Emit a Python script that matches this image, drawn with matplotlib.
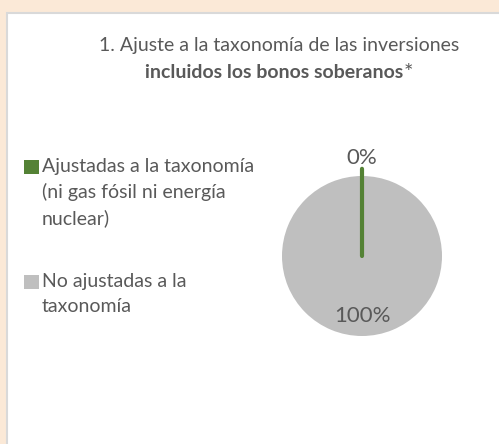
import matplotlib.pyplot as plt
from matplotlib.patches import Rectangle

# datos
categorias = ["Ajustadas a la taxonomía\n(ni gas fósil ni energía\nnuclear)",
              "No ajustadas a la\ntaxonomía"]
valores = [0, 100]
colores = ["#548235", "#BFBFBF"]
titulo_1 = "1. Ajuste a la taxonomía de las inversiones"
titulo_2 = "incluidos los bonos soberanos"

plt.rcParams['font.family'] = ['Lato', 'DejaVu Sans']
gris_texto = "#595959"
W, H = 499, 444

fig = plt.figure(figsize=(W / 100, H / 100), dpi=100)
fig.patch.set_facecolor("#FBE9D7")

# panel blanco
fig.add_artist(Rectangle((7 / W, -0.01), 1, 1.01 - 13 / H, transform=fig.transFigure,
                         facecolor="white", edgecolor="#D9D9D9", linewidth=1.5,
                         zorder=-5))

# titulo
fig.text(279 / W, 1 - 45 / H, titulo_1, ha='center', va='center',
         fontsize=14, color=gris_texto)
fig.text(403 / W, 1 - 72 / H, titulo_2, ha='right', va='center',
         fontsize=14, color=gris_texto, fontweight='bold')
fig.text(403.5 / W, 1 - 73 / H, "*", ha='left', va='center',
         fontsize=16, color=gris_texto)

# pastel
ax = fig.add_axes([(362 - 100) / W, (H - 256 - 100) / H, 200 / W, 200 / H])
wedges, textos, pct = ax.pie(valores, colors=colores, startangle=90,
                             counterclock=False, radius=1,
                             autopct='%1.0f%%', pctdistance=0.75,
                             wedgeprops=dict(linewidth=0),
                             textprops=dict(fontsize=16, color=gris_texto))
wedges[0].set_edgecolor(colores[0])
wedges[0].set_linewidth(3)
wedges[0].set_joinstyle('round')
wedges[0].set_capstyle('round')
wedges[0].set_radius(1.09)
wedges[0].set_zorder(3)
pct[0].set_position((0, 1.22))
ax.set_xlim(-1.25, 1.25)
ax.set_ylim(-1.25, 1.25)
ax.axis('off')

# leyenda
ys = [167, 282]
for cat, col, y in zip(categorias, colores, ys):
    fig.add_artist(Rectangle((24 / W, 1 - (y + 7) / H), 15 / W, 14 / H,
                             transform=fig.transFigure, facecolor=col,
                             edgecolor='none'))
    fig.text(42 / W, 1 - (y - 9) / H, cat, ha='left', va='top',
             fontsize=14, color=gris_texto, linespacing=1.55)

fig.savefig("out.png", dpi=100, facecolor=fig.get_facecolor())
